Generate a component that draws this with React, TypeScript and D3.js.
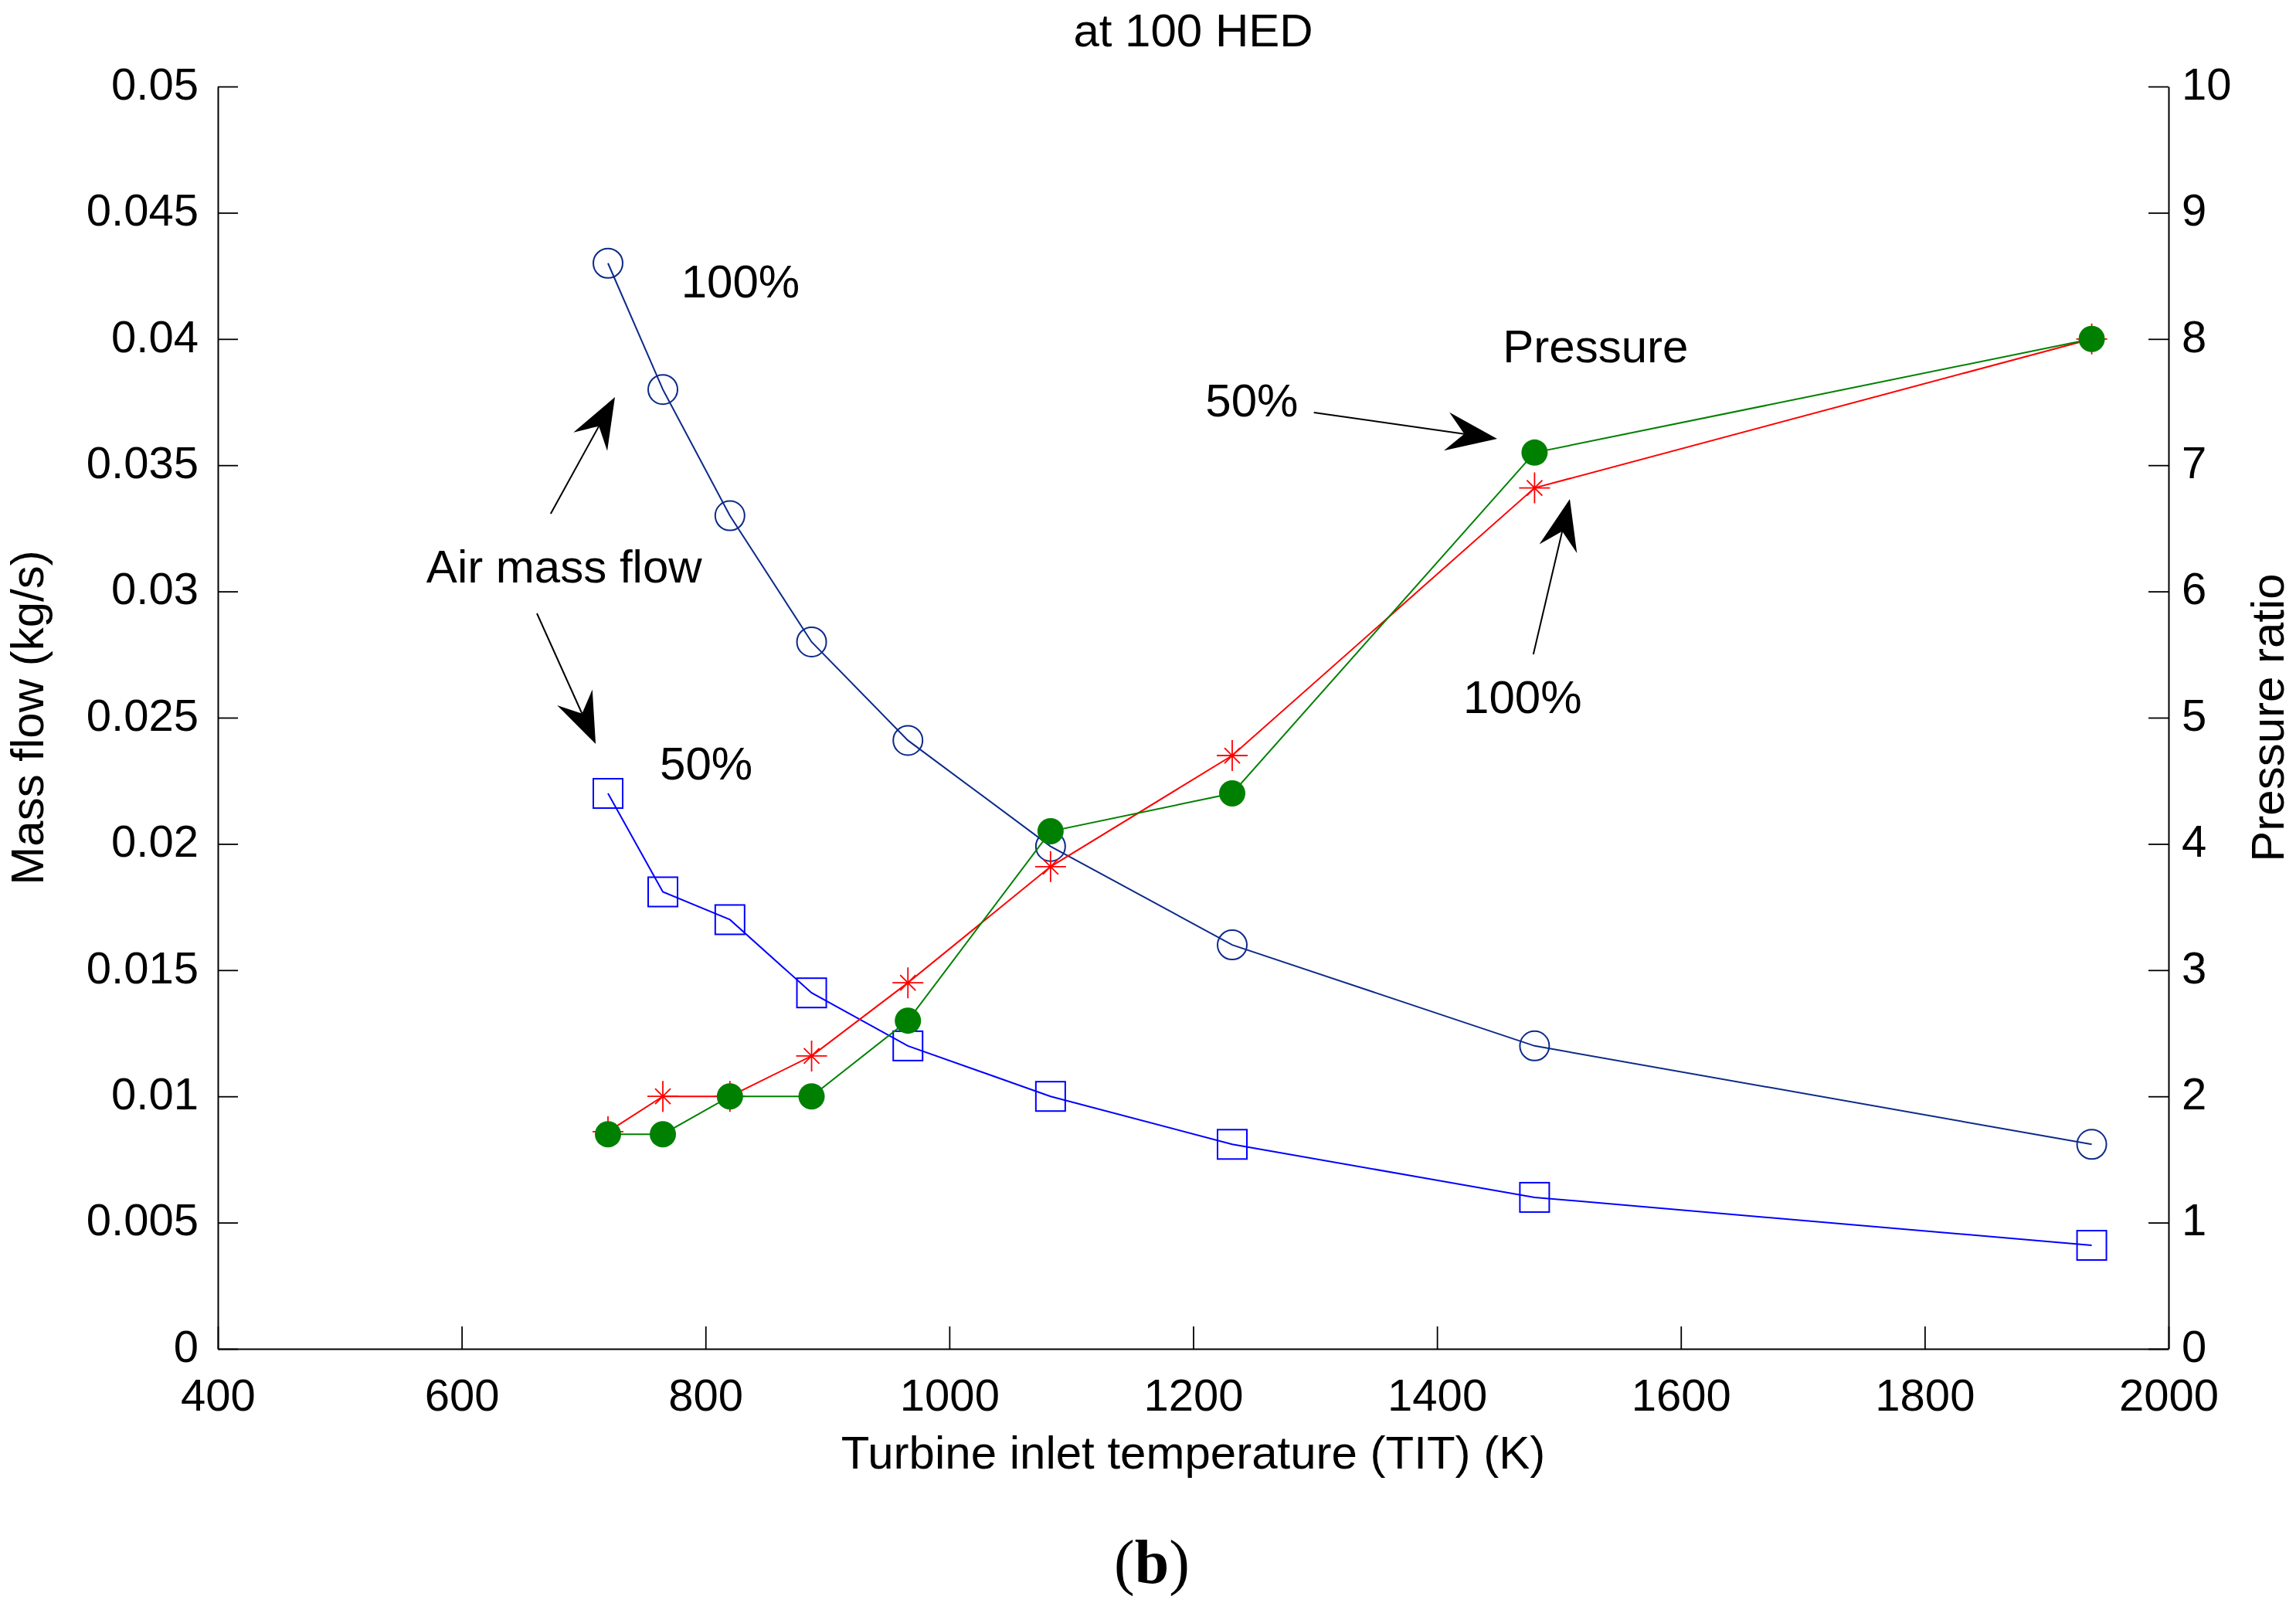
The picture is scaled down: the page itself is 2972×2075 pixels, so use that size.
import { useEffect, useRef } from "react";
import * as d3 from "d3";

// turbine inlet temperature (K) at each operating point
const temps = [720, 765, 820, 887, 966, 1083, 1232, 1480, 1937];
// air mass flow (kg/s), left axis
const airFlow100 = [0.043, 0.038, 0.033, 0.028, 0.0241, 0.0199, 0.016, 0.012, 0.0081];
const airFlow50 = [0.022, 0.0181, 0.017, 0.0141, 0.012, 0.01, 0.0081, 0.006, 0.0041];
// pressure ratio, right axis
const pressure100 = [1.72, 2.0, 2.0, 2.32, 2.9, 3.82, 4.7, 6.82, 8.0];
const pressure50 = [1.7, 1.7, 2.0, 2.0, 2.6, 4.1, 4.4, 7.1, 8.0];

const xTicks = [400, 600, 800, 1000, 1200, 1400, 1600, 1800, 2000];
const flowTicks = [0, 0.005, 0.01, 0.015, 0.02, 0.025, 0.03, 0.035, 0.04, 0.045, 0.05];
const ratioTicks = [0, 1, 2, 3, 4, 5, 6, 7, 8, 9, 10];

// annotation labels, placed in data units (x: K, y: kg/s)
const labels = [
  { text: "100%", x: 780, y: 0.04165 },
  { text: "Air mass flow", x: 571, y: 0.03035 },
  { text: "50%", x: 762.5, y: 0.02255 },
  { text: "Pressure", x: 1454, y: 0.03908 },
  { text: "50%", x: 1210, y: 0.03693 },
  { text: "100%", x: 1421.5, y: 0.02518 },
];

// annotation arrows, tail -> tip in data units (x: K, y: kg/s)
const arrows = [
  { x0: 673, y0: 0.03308, x1: 725.7, y1: 0.0377 },
  { x0: 661.7, y0: 0.02913, x1: 709.9, y1: 0.02396 },
  { x0: 1299, y0: 0.03709, x1: 1449.3, y1: 0.03605 },
  { x0: 1479, y0: 0.02751, x1: 1508.9, y1: 0.03366 },
];

const W = 2972;
const H = 2075;
const FONT = "'Liberation Sans', Arial, Helvetica, sans-serif";
const NAVY = "#0c2a8a";
const BLUE = "#0000ff";
const RED = "#ff0000";
const GREEN = "#008000";

export default function App() {
  const svgRef = useRef<SVGSVGElement>(null);

  useEffect(() => {
    document.body.style.margin = "0";
    if (!svgRef.current) return;

    const margin = { top: 112, right: 165, bottom: 329, left: 282 };
    const svg = d3.select(svgRef.current);
    svg.selectAll("*").remove();

    const x = d3.scaleLinear().domain([400, 2000]).range([margin.left, W - margin.right]);
    const yL = d3.scaleLinear().domain([0, 0.05]).range([H - margin.bottom, margin.top]);
    const yR = d3.scaleLinear().domain([0, 10]).range([H - margin.bottom, margin.top]);

    const styleAxis = (g: d3.Selection<SVGGElement, unknown, null, undefined>) => {
      g.attr("font-size", 58).attr("font-family", FONT);
      g.selectAll("line").attr("stroke", "#000").attr("stroke-width", 1.8);
      g.select(".domain").attr("stroke", "#000").attr("stroke-width", 2);
      g.selectAll("text").attr("fill", "#000");
    };

    // axes: MATLAB-style ticks pointing inward, no top border
    svg
      .append("g")
      .attr("transform", `translate(0,${H - margin.bottom})`)
      .call(
        d3
          .axisBottom(x)
          .tickValues(xTicks)
          .tickSizeInner(-29)
          .tickSizeOuter(0)
          .tickPadding(39)
          .tickFormat(d3.format("d")),
      )
      .call(styleAxis);

    svg
      .append("g")
      .attr("transform", `translate(${margin.left},0)`)
      .call(
        d3
          .axisLeft(yL)
          .tickValues(flowTicks)
          .tickSizeInner(-26)
          .tickSizeOuter(0)
          .tickPadding(25)
          .tickFormat((d) => String(+(+d).toFixed(3))),
      )
      .call(styleAxis)
      .selectAll("text")
      .attr("dy", "0.28em");

    svg
      .append("g")
      .attr("transform", `translate(${W - margin.right},0)`)
      .call(d3.axisRight(yR).tickValues(ratioTicks).tickSizeInner(-26).tickSizeOuter(0).tickPadding(17))
      .call(styleAxis)
      .selectAll("text")
      .attr("dy", "0.28em");

    const lineL = d3
      .line<number>()
      .x((_, i) => x(temps[i]))
      .y((d) => yL(d));
    const lineR = d3
      .line<number>()
      .x((_, i) => x(temps[i]))
      .y((d) => yR(d));

    // air mass flow 100% (open circles)
    svg.append("path").datum(airFlow100).attr("fill", "none").attr("stroke", NAVY).attr("stroke-width", 2).attr("d", lineL);
    svg
      .selectAll("circle.c100")
      .data(airFlow100)
      .join("circle")
      .attr("class", "c100")
      .attr("cx", (_, i) => x(temps[i]))
      .attr("cy", (d) => yL(d))
      .attr("r", 19)
      .attr("fill", "none")
      .attr("stroke", NAVY)
      .attr("stroke-width", 2);

    // air mass flow 50% (open squares)
    svg.append("path").datum(airFlow50).attr("fill", "none").attr("stroke", BLUE).attr("stroke-width", 2).attr("d", lineL);
    svg
      .selectAll("rect.s50")
      .data(airFlow50)
      .join("rect")
      .attr("class", "s50")
      .attr("x", (_, i) => x(temps[i]) - 19)
      .attr("y", (d) => yL(d) - 19)
      .attr("width", 38)
      .attr("height", 38)
      .attr("fill", "none")
      .attr("stroke", BLUE)
      .attr("stroke-width", 2);

    // pressure ratio 100% (asterisks)
    svg.append("path").datum(pressure100).attr("fill", "none").attr("stroke", RED).attr("stroke-width", 2).attr("d", lineR);
    svg
      .selectAll("path.p100")
      .data(pressure100)
      .join("path")
      .attr("class", "p100")
      .attr("transform", (d, i) => `translate(${x(temps[i])},${yR(d)})`)
      .attr("d", "M0,-20V20M-20,0H20M-10,-10L10,10M-10,10L10,-10")
      .attr("fill", "none")
      .attr("stroke", RED)
      .attr("stroke-width", 1.8);

    // pressure ratio 50% (filled circles)
    svg.append("path").datum(pressure50).attr("fill", "none").attr("stroke", GREEN).attr("stroke-width", 2).attr("d", lineR);
    svg
      .selectAll("circle.p50")
      .data(pressure50)
      .join("circle")
      .attr("class", "p50")
      .attr("cx", (_, i) => x(temps[i]))
      .attr("cy", (d) => yR(d))
      .attr("r", 17)
      .attr("fill", GREEN);

    // annotation arrows with notched heads
    const headLen = 66;
    const headHalf = 25;
    const notch = 43;
    arrows.forEach((a) => {
      const tx = x(a.x0);
      const ty = yL(a.y0);
      const hx = x(a.x1);
      const hy = yL(a.y1);
      const len = Math.hypot(hx - tx, hy - ty);
      const ux = (hx - tx) / len;
      const uy = (hy - ty) / len;
      const px = -uy;
      const py = ux;
      const nx = hx - ux * notch;
      const ny = hy - uy * notch;
      svg
        .append("line")
        .attr("x1", tx)
        .attr("y1", ty)
        .attr("x2", nx)
        .attr("y2", ny)
        .attr("stroke", "#000")
        .attr("stroke-width", 2);
      const bx = hx - ux * headLen;
      const by = hy - uy * headLen;
      const pts = [
        [hx, hy],
        [bx + px * headHalf, by + py * headHalf],
        [nx, ny],
        [bx - px * headHalf, by - py * headHalf],
      ];
      svg.append("polygon").attr("points", pts.map((p) => p.join(",")).join(" ")).attr("fill", "#000");
    });

    // annotation labels
    svg
      .selectAll("text.note")
      .data(labels)
      .join("text")
      .attr("class", "note")
      .attr("x", (d) => x(d.x))
      .attr("y", (d) => yL(d.y))
      .attr("font-family", FONT)
      .attr("font-size", 60)
      .attr("fill", "#000")
      .text((d) => d.text);

    const cx = (margin.left + W - margin.right) / 2;
    const cy = (margin.top + H - margin.bottom) / 2;

    svg
      .append("text")
      .attr("x", cx)
      .attr("y", 60)
      .attr("text-anchor", "middle")
      .attr("font-family", FONT)
      .attr("font-size", 60)
      .text("at 100 HED");

    svg
      .append("text")
      .attr("x", cx)
      .attr("y", 1901)
      .attr("text-anchor", "middle")
      .attr("font-family", FONT)
      .attr("font-size", 60)
      .text("Turbine inlet temperature (TIT) (K)");

    svg
      .append("text")
      .attr("transform", `translate(56,${cy}) rotate(-90)`)
      .attr("text-anchor", "middle")
      .attr("font-family", FONT)
      .attr("font-size", 60)
      .text("Mass flow (kg/s)");

    svg
      .append("text")
      .attr("transform", `translate(2956,${cy}) rotate(-90)`)
      .attr("text-anchor", "middle")
      .attr("font-family", FONT)
      .attr("font-size", 60)
      .text("Pressure ratio");

    const b = svg
      .append("text")
      .attr("x", 1491)
      .attr("y", 2049)
      .attr("text-anchor", "middle")
      .attr("font-family", "'Liberation Serif', 'Times New Roman', serif")
      .attr("font-size", 80);
    b.append("tspan").text("(");
    b.append("tspan").attr("font-weight", "bold").text("b");
    b.append("tspan").text(")");
  }, []);

  return (
    <svg
      ref={svgRef}
      width={W}
      height={H}
      style={{ display: "block", background: "#fff" }}
      role="img"
      aria-label="Mass flow and pressure ratio vs turbine inlet temperature"
    />
  );
}
